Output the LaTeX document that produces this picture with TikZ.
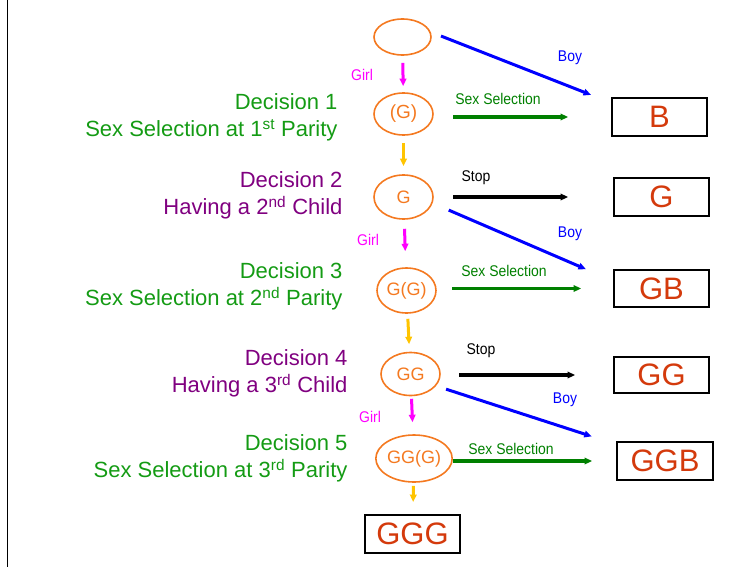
\documentclass[tikz,border=0pt]{standalone}
\usepackage{fontspec}
\setmainfont{Liberation Sans}
\newfontfamily\narrowsf{Liberation Sans}[FakeStretch=0.9]
\usetikzlibrary{arrows.meta,shapes.geometric,positioning}
\definecolor{egg}{RGB}{244,121,32}
\definecolor{outred}{RGB}{212,58,12}
\definecolor{decgreen}{RGB}{20,155,20}
\definecolor{selgreen}{RGB}{0,128,0}
\definecolor{decpurple}{RGB}{128,0,128}
\definecolor{girlpink}{RGB}{255,0,255}
\definecolor{gold}{RGB}{255,196,0}

\begin{document}
\begin{tikzpicture}[
  x=1pt, y=-1pt,
  every node/.style={font=\fontsize{13.5}{16}\selectfont},
  child/.style={ellipse, draw=egg, line width=1.6pt, text=egg, inner sep=0pt,
                minimum width=59pt, minimum height=43pt,
                font=\fontsize{18}{18}\selectfont},
  outcome/.style={draw=black, line width=1.9pt, fill=white, text=outred,
                  minimum width=95pt, minimum height=37pt, inner sep=0pt,
                  font=\fontsize{31}{31}\selectfont},
  decision/.style={anchor=east, align=right, font=\fontsize{22}{27}\selectfont},
  tag/.style={font=\narrowsf\fontsize{15.5}{17}\selectfont},
  boyarrow/.style={->, draw=blue, line width=3pt},
  selarrow/.style={->, draw=selgreen, line width=3.4pt},
  stoparrow/.style={->, draw=black, line width=3.4pt},
  girlarrow/.style={->, draw=girlpink, line width=3pt},
  nextarrow/.style={->, draw=gold, line width=3pt},
  >={Triangle[length=7.5pt,width=6.5pt]}
]
\useasboundingbox (0,0) rectangle (743,567);
\draw[line width=0.8pt] (7,0) -- (7,567);

% children so far
\node[child, minimum width=57pt, minimum height=36pt] (e0) at (402.5,37) {};
\node[child, font=\fontsize{19}{19}\selectfont, minimum height=42pt] (e1) at (403.5,114) {(G)};
\node[child, minimum height=44pt] (e2) at (403.5,197) {G};
\node[child, minimum height=45pt] (e3) at (406.5,290.5) {G(G)};
\node[child] (e4) at (410.5,374) {GG};
\node[child, minimum width=68pt, minimum height=47pt] (e5) at (414,458.5) {GG(G)};

% final families
\node[outcome, minimum height=38pt] (bB) at (659.5,117) {B};
\node[outcome, minimum height=38pt] (bG) at (661.5,197) {G};
\node[outcome] (bGB) at (661.5,288.5) {GB};
\node[outcome, minimum height=36pt] (bGG) at (661.5,375) {GG};
\node[outcome, minimum width=96pt, minimum height=38pt] (bGGB) at (665,461) {GGB};
\node[outcome, minimum height=38pt] (bGGG) at (412.5,534) {GGG};

% decisions
\node[decision, text=decgreen] (d1) at (341,117.5)
  {Decision 1\\Sex Selection at 1\textsuperscript{st} Parity};
\node[decision, text=decpurple] (d2) at (346,195.5)
  {Decision 2\\Having a 2\textsuperscript{nd} Child};
\node[decision, text=decgreen] (d3) at (346,286.5)
  {Decision 3\\Sex Selection at 2\textsuperscript{nd} Parity};
\node[decision, text=decpurple] (d4) at (351,373.5)
  {Decision 4\\Having a 3\textsuperscript{rd} Child};
\node[decision, text=decgreen] (d5) at (351,458.5)
  {Decision 5\\Sex Selection at 3\textsuperscript{rd} Parity};

% down the column
\draw[girlarrow, shorten <=7pt, shorten >=6pt] (e0) -- (e1);
\draw[nextarrow, shorten <=7pt, shorten >=8pt] (e1) -- (e2);
\draw[girlarrow, shorten <=9pt, shorten >=16pt] (e2) -- (e3);
\draw[nextarrow, shorten <=5pt, shorten >=7.5pt] (e3) -- (e4);
\draw[girlarrow, shorten <=2.5pt, shorten >=12pt] (e4) -- (e5);
\draw[nextarrow, shorten <=3pt, shorten >=12pt] (e5) -- (bGGG);

% across
\draw[selarrow, shorten <=49.5pt, shorten >=43pt] (e1 |- bB) -- (bB);
\draw[stoparrow, shorten <=49.5pt, shorten >=45pt] (e2 |- bG) -- (bG);
\draw[selarrow, shorten <=45.5pt, shorten >=32pt] (e3 |- bGB) -- (bGB);
\draw[stoparrow, shorten <=48.5pt, shorten >=38pt] (e4 |- bGG) -- (bGG);
\draw[selarrow, shorten <=39pt, shorten >=24pt] (e5 |- bGGB) -- (bGGB);

% boys
\draw[boyarrow, shorten <=11pt, shorten >=21.5pt] (e0.10) -- ([yshift=-5.7pt]bB.north west);
\draw[boyarrow, shorten <=17.5pt, shorten >=29.5pt] (e2.-12) -- ([yshift=-11.8pt]bGB.north west);
\draw[boyarrow, shorten <=10.5pt, shorten >=25.5pt] (e4.-25) -- ([yshift=-3.2pt]bGGB.north west);

% labels
\node[tag, text=girlpink] (girl1) at (362,75) {Girl};
\node[tag, text=girlpink] (girl2) at (368,240) {Girl};
\node[tag, text=girlpink] (girl3) at (370,417) {Girl};
\node[tag, text=blue] (boy1) at (570,58) {Boy};
\node[tag, text=blue] (boy2) at (570,234) {Boy};
\node[tag, text=blue] (boy3) at (565,400) {Boy};
\node[tag, text=selgreen] (sel1) at (498,99) {Sex Selection};
\node[tag, text=selgreen] (sel2) at (504,271) {Sex Selection};
\node[tag, text=selgreen] (sel3) at (511,449) {Sex Selection};
\node[tag] (stop1) at (476,178) {Stop};
\node[tag] (stop2) at (481,351) {Stop};

\end{tikzpicture}
\end{document}
